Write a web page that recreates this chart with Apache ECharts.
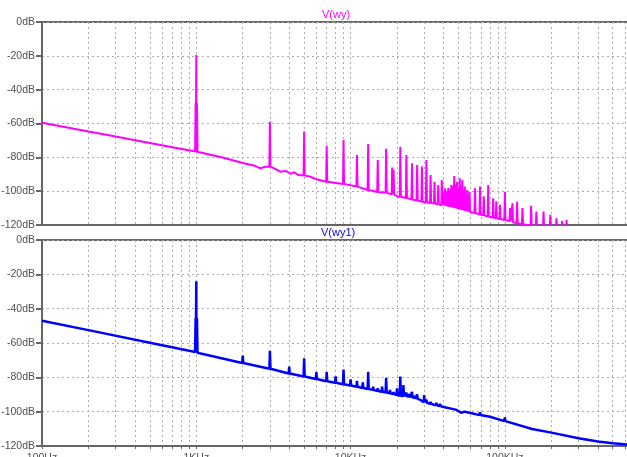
<!DOCTYPE html>
<html><head><meta charset="utf-8">
<script src="https://cdn.jsdelivr.net/npm/echarts@6/dist/echarts.min.js"></script>
<style>html,body{margin:0;padding:0;background:#fff}#c{width:627px;height:457px}</style>
</head><body><div id="c"></div>
<script>
const xTickValues = [100, 1000, 10000, 100000];
const xTickLabels = ['100Hz', '1KHz', '10KHz', '100KHz'];
const yTickValues = [-120, -100, -80, -60, -40, -20, 0];
const traceNames = ['V(wy)', 'V(wy1)'];

// V(wy) noise floor [Hz, dB]
const wyFloor = [
  [100,-59.5],[200,-64.7],[300,-67.7],[500,-71.5],[700,-74],[950,-76.3],[1050,-77],
  [1500,-80.3],[2000,-83.3],[2400,-85],[2600,-86.5],[2800,-85.6],[3200,-86.5],[3500,-88.5],
  [3800,-88],[4100,-89.8],[4300,-88.8],[4600,-90.5],[5500,-91.5],[6000,-93],[7000,-94.4],
  [9000,-95.7],[11000,-97.3],[13000,-99.3],[15000,-100.5],[17000,-101],[20000,-103],
  [25000,-105],[30000,-106.5],[40000,-108.5],[50000,-111],[70000,-114],[100000,-117],
  [130000,-119.5],[200000,-122],[300000,-124],[650000,-128]
];
// V(wy) spectral lines [Hz, base dB, top dB]
const wySpikes = [
  [990,-76.5,-48],[1000,-76.6,-19.5],[1010,-76.8,-48],
  [3000,-85.5,-59],[5000,-90.8,-64.8],[7000,-94.4,-73.1],[9000,-95.7,-69.7],
  [11000,-97.3,-78.6],[13000,-99.3,-72.1],[15000,-100.5,-81.6],[17000,-101,-75],
  [18600,-101.8,-86],[19000,-102,-87.5],[21000,-103.3,-73.7],[23000,-104,-78.6],
  [25000,-105,-83.5],[27000,-105.5,-84.5],[29000,-106.2,-85.5],[31000,-106.7,-81.6],
  [33000,-107,-90.4],[35000,-107.3,-94.4],[37000,-107.7,-96.3],[39000,-108.3,-93.4],
  [40000,-108.5,-101],[41000,-108.7,-98.3],[42000,-109,-100],[43000,-109.2,-98],
  [44000,-109.4,-99],[45000,-109.6,-96.3],[46000,-109.8,-97],[47000,-110,-91],
  [48000,-110.3,-96],[49000,-110.5,-94.4],[50000,-110.8,-98],[51000,-111,-92.4],
  [52000,-111.1,-97],[53000,-111.3,-93.4],[54000,-111.5,-100],[55000,-111.7,-97.3],
  [56000,-111.8,-103],[57000,-112,-99.3],[58000,-112.1,-104],[59000,-112.3,-100.3],
  [64000,-113,-98.3],[69000,-113.8,-97.3],[73000,-114.3,-103],[78000,-115,-96.3],
  [84000,-115.6,-104.2],[88000,-116,-106],[93000,-116.5,-108],[100000,-117,-100.3],
  [108000,-117.8,-110],[112000,-118.2,-107.2],[120000,-119,-106.2],[130000,-119.5,-110],
  [148000,-120.5,-108.7],[160000,-121,-112],[178000,-121.5,-112],[197000,-122,-114],
  [216000,-122.3,-116],[235000,-122.8,-117.5],[251000,-123,-117]
];

// V(wy1) noise floor [Hz, dB]
const wy1Floor = [
  [100,-47],[200,-52.5],[500,-59.9],[950,-65],[1050,-66],[2000,-71.6],[3000,-75],
  [4000,-77.8],[5000,-79.5],[7000,-82.3],[10000,-84.8],[15000,-88.3],[20000,-90.5],
  [30000,-94.5],[40000,-97.3],[48000,-98.8],[52000,-100.6],[55000,-100],[60000,-100.8],
  [80000,-103],[100000,-105.5],[150000,-110.1],[200000,-112.2],[300000,-115.5],
  [400000,-117.4],[500000,-118.4],[650000,-119.3]
];
// V(wy1) spectral lines [Hz, base dB, top dB]
const wy1Spikes = [
  [990,-65.3,-45.5],[1000,-65.5,-24],[1010,-65.7,-45.5],
  [2000,-71.6,-67.4],[3000,-75,-64.5],[4000,-77.8,-73.8],[5000,-79.5,-68.9],
  [6000,-81,-77],[7000,-82.3,-77],[8000,-83.2,-79.5],[9000,-84,-75.5],[10000,-84.8,-81.2],
  [11000,-85.5,-82],[12000,-86.2,-83],[13000,-86.8,-76.7],[14000,-87.3,-85.4],
  [15000,-88,-86.4],[16000,-88.4,-85.4],[17000,-88.8,-80.2],[18000,-89.3,-87.4],
  [19000,-89.8,-88.5],[20000,-90.3,-86.4],[21000,-90.7,-79.6],[22000,-91,-84.5],
  [23000,-91.3,-89],[24000,-91.7,-90],[25000,-92,-88.5],[26000,-92.4,-91],
  [27000,-92.7,-90],[28000,-93,-92],[30000,-94.5,-90.3],[31000,-94.8,-93],
  [33000,-95.4,-94.2],[36000,-96.3,-94.8],[38000,-96.8,-95.4],
  [69000,-102,-100.4],[100000,-105.5,-103.3]
];

// spectral lines are drawn as narrow peaks; base spread as a fraction of frequency
const SPIKE_SPREAD = 0.008;
function buildTrace(floor, spikes) {
  const pts = [];
  floor.forEach(p => pts.push({f: p[0], v: p[1], o: 0}));
  spikes.forEach(s => {
    pts.push({f: s[0] * (1 - SPIKE_SPREAD), v: s[1], o: 1});
    pts.push({f: s[0], v: s[2], o: 2});
    pts.push({f: s[0] * (1 + SPIKE_SPREAD), v: s[1], o: 3});
  });
  pts.sort((a, b) => (a.f - b.f) || (a.o - b.o));
  return pts.map(p => [p.f, p.v]);
}

const AX = '#666666';
const GRIDC = '#ababab';
const LBL = '#505050';
const FONT = '"Liberation Sans", Arial, sans-serif';

function xAxisFor(i, showLabels) {
  return {
    type: 'log', logBase: 10, gridIndex: i, min: 100, max: 647000,
    axisLine: {show: true, onZero: false, lineStyle: {color: AX, width: 2}},
    axisTick: {show: showLabels, length: 3, lineStyle: {color: AX, width: 1}},
    minorTick: {show: showLabels, splitNumber: 9, length: 3, lineStyle: {color: AX, width: 1}},
    splitLine: {show: true, lineStyle: {color: GRIDC, type: [2, 3], width: 1}},
    minorSplitLine: {show: true, lineStyle: {color: GRIDC, type: [2, 3], width: 1}},
    axisLabel: {
      show: showLabels, color: LBL, fontSize: 10.5, fontFamily: FONT, margin: 7,
      showMaxLabel: false,
      formatter: v => { const k = xTickValues.indexOf(Math.round(v)); return k >= 0 ? xTickLabels[k] : ''; }
    }
  };
}
function yAxisFor(i) {
  return {
    type: 'value', gridIndex: i, min: -120, max: 0, interval: 20,
    axisLine: {show: true, onZero: false, lineStyle: {color: AX, width: 2}},
    axisTick: {show: true, length: 6, lineStyle: {color: AX, width: 2}},
    splitLine: {show: true, lineStyle: {color: GRIDC, type: [2, 3], width: 1}},
    axisLabel: {
      color: LBL, fontSize: 10.5, fontFamily: FONT, margin: 7,
      formatter: v => yTickValues.includes(v) ? v + 'dB' : ''
    }
  };
}

const chart = echarts.init(document.getElementById('c'), null, {renderer: 'canvas'});
chart.setOption({
  animation: false,
  backgroundColor: '#ffffff',
  grid: [
    {left: 42, top: 22, width: 588, height: 203, show: true, borderColor: AX, borderWidth: 2,
     containLabel: false, outerBoundsMode: 'none'},
    {left: 42, top: 240, width: 588, height: 206, show: true, borderColor: AX, borderWidth: 2,
     containLabel: false, outerBoundsMode: 'none'}
  ],
  xAxis: [xAxisFor(0, false), xAxisFor(1, true)],
  yAxis: [yAxisFor(0), yAxisFor(1)],
  graphic: [
    {type: 'text', left: 322, top: 9, style: {text: traceNames[0], fill: '#ff00ff', font: '11px ' + FONT}},
    {type: 'text', left: 321, top: 227, style: {text: traceNames[1], fill: '#0000ff', font: '11px ' + FONT}}
  ],
  series: [
    {type: 'line', xAxisIndex: 0, yAxisIndex: 0, data: buildTrace(wyFloor, wySpikes),
     showSymbol: false, symbol: 'none', clip: true, sampling: null,
     lineStyle: {color: '#ff00ff', width: 2}, z: 5},
    {type: 'line', xAxisIndex: 1, yAxisIndex: 1, data: buildTrace(wy1Floor, wy1Spikes),
     showSymbol: false, symbol: 'none', clip: true, sampling: null,
     lineStyle: {color: '#0000ff', width: 2.5}, z: 5}
  ]
});
</script>
</body></html>
